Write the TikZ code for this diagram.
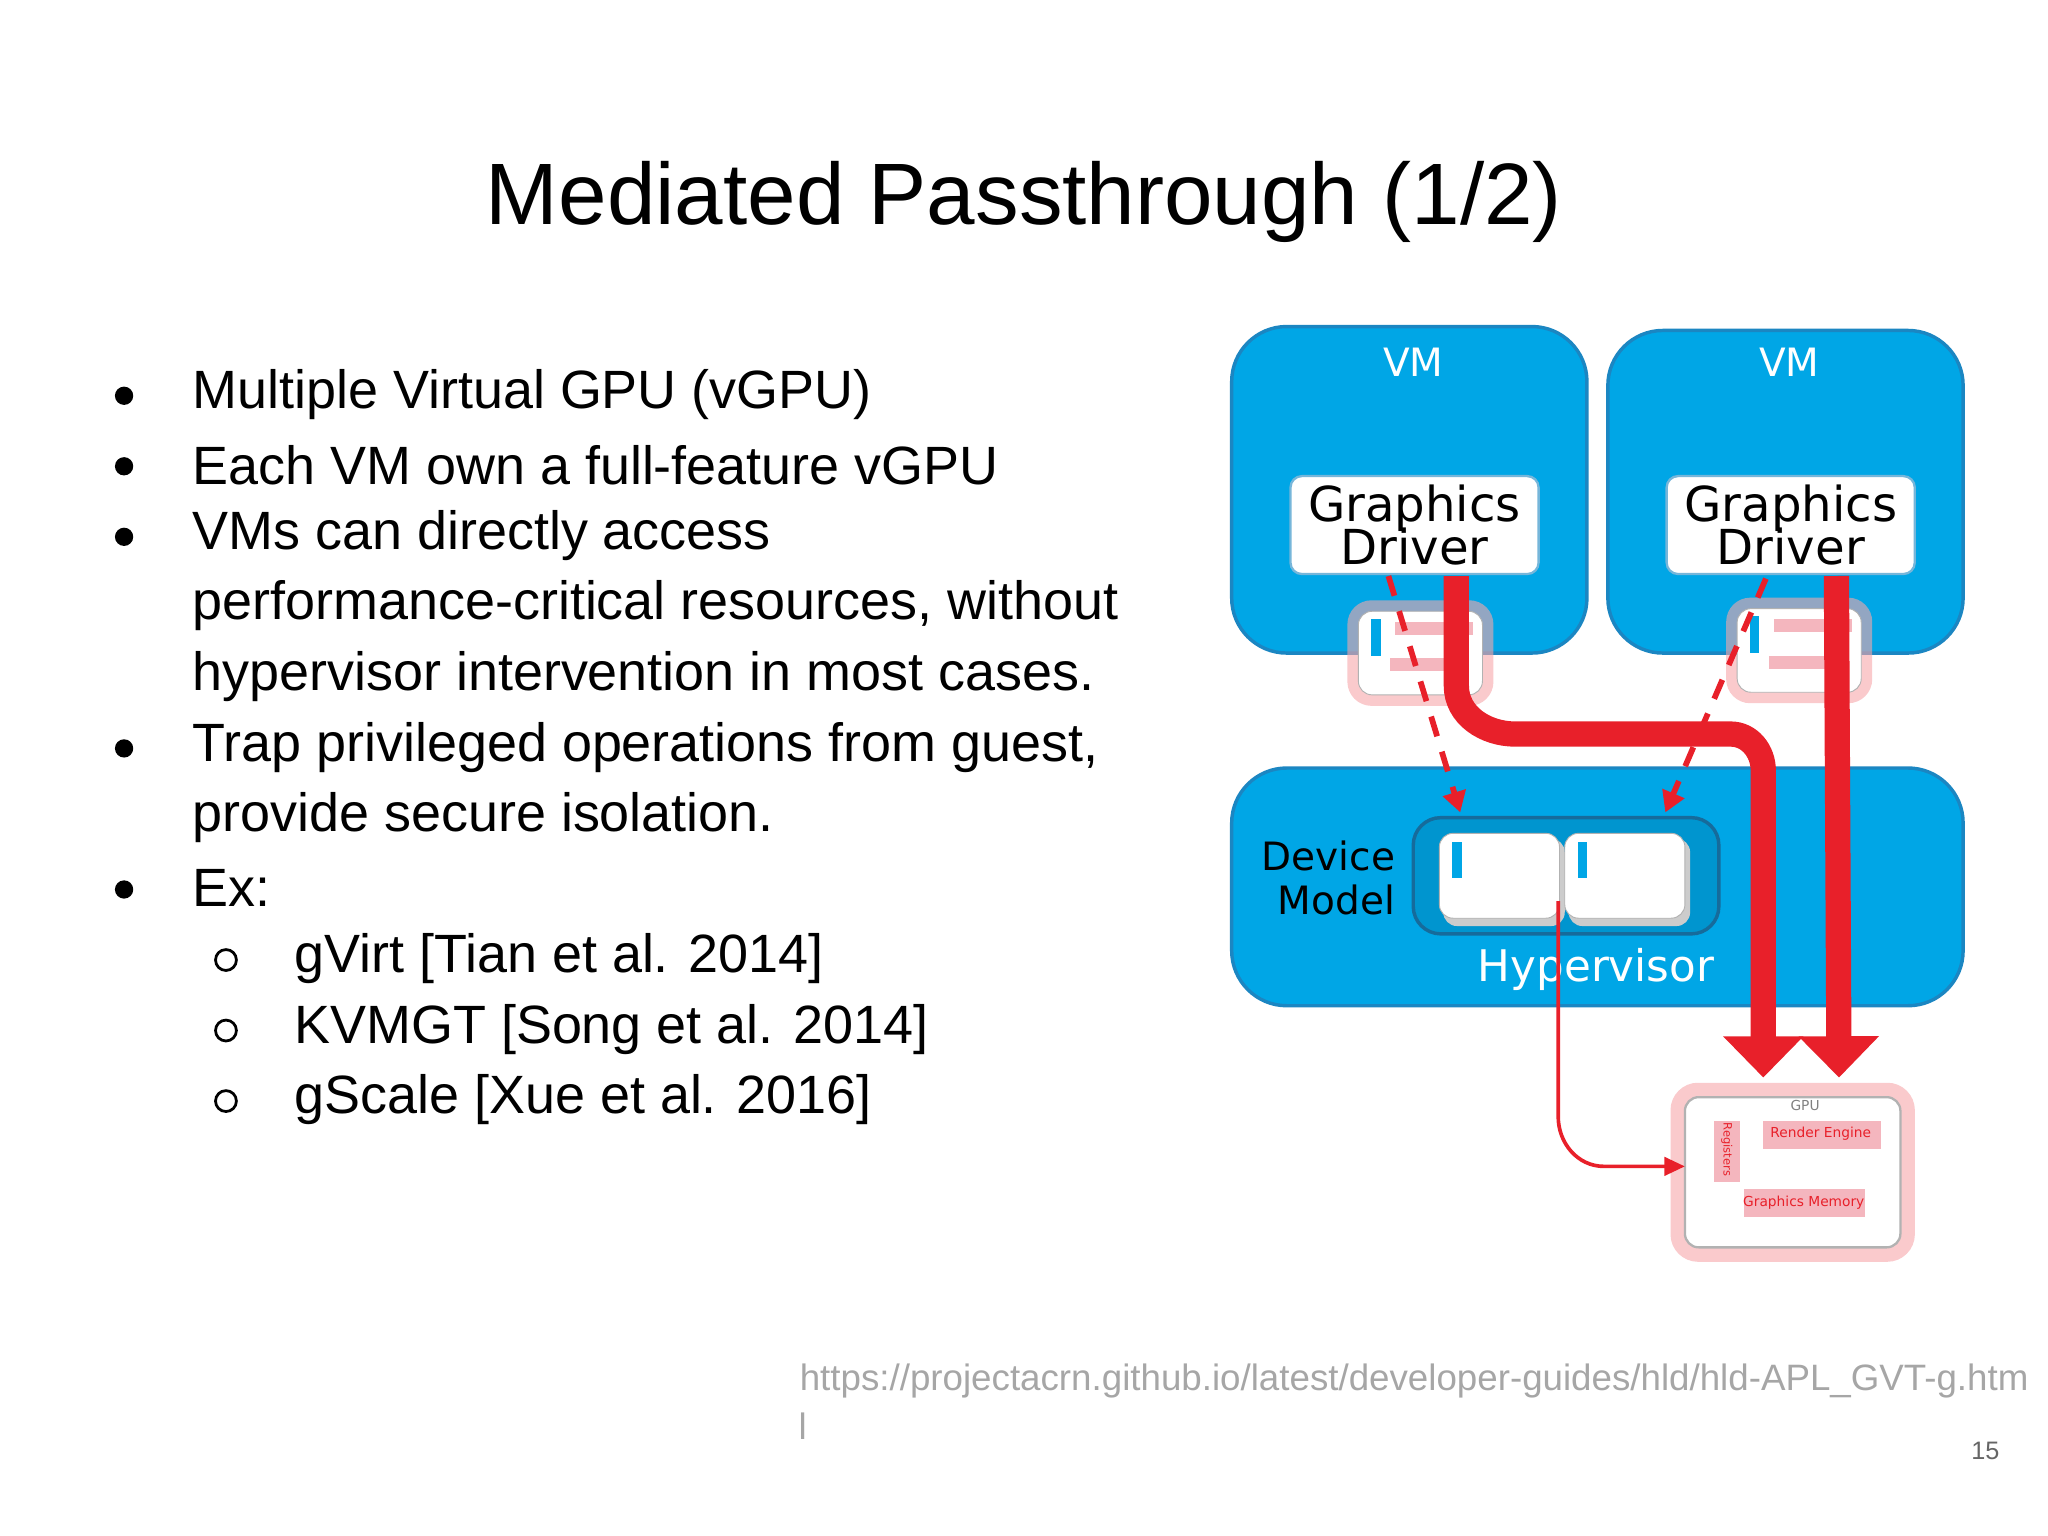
\documentclass[tikz,border=0pt]{standalone}
\usepackage{fontspec}
\setmainfont{Liberation Sans}
\newfontfamily\djvf{DejaVu Sans}
\usetikzlibrary{arrows.meta}
\definecolor{vmblue}{HTML}{00A6E6}
\definecolor{vmedge}{HTML}{1B86C2}
\definecolor{rd}{HTML}{E8202A}
\definecolor{pk}{HTML}{F4B6BE}
\tikzset{
 vm/.style={draw=vmedge,line width=1.5pt,fill=vmblue,rounded corners=24pt},
 drv/.style={draw=vmedge!60,line width=1pt,fill=white,rounded corners=5pt,minimum width=190*0.02cm,minimum height=75*0.02cm,align=center,font=\djvf\fontsize{21}{23}\selectfont,inner sep=0pt},
 gpu/.style={fill=white,draw=gray!60,rounded corners=6pt},
 glow/.style={draw=rd!40,line width=5pt,rounded corners=8pt,opacity=0.6},
 thk/.style={draw=rd,line width=11pt},
 dsh/.style={draw=rd,line width=2.5pt,dash pattern=on 9pt off 7pt,-{Triangle[length=9pt,width=10pt]}},
 bul/.style={anchor=west,font=\fontsize{23.5}{26}\selectfont,inner sep=0pt},
 wl/.style={text=white,font=\djvf\fontsize{17}{20}\selectfont},
}
\begin{document}
\begin{tikzpicture}[x=0.02cm,y=-0.02cm]
\useasboundingbox (0,0) rectangle (1568,1176);
\node (title) at (784,155) {\fontsize{38}{42}\selectfont Mediated Passthrough (1/2)};
% bullets
\foreach \y/\t/\b in {302/Multiple Virtual GPU (vGPU)/1,356/Each VM own a full-feature vGPU/1,410/VMs can directly access/1,464/{performance-critical resources, without}/0,518/hypervisor intervention in most cases./0,572/{Trap privileged operations from guest,}/1,626/provide secure isolation./0,680/Ex:/1}{
 \node[bul] at (147,\y) {\t};
 \ifnum\b=1 \fill (95,\y+1) circle (7);\fi
}
\foreach \y/\t in {734/{gVirt [Tian et al. 2014]},788/{KVMGT [Song et al. 2014]},842/{gScale [Xue et al. 2016]}}{
 \node[bul] at (225,\y) {\t};
 \draw[line width=1.2pt] (173,\y+1) circle (8);
}
\node[anchor=west,inner sep=0pt,text=gray!70,font=\fontsize{16}{18}\selectfont] (url) at (612,1057) {https://projectacrn.github.io/latest/developer-guides/hld/hld-APL\_GVT-g.htm};
\node[anchor=west,inner sep=0pt,text=gray!70,font=\fontsize{16}{18}\selectfont] (url2) at (611,1092) {l};
\node[text=gray!80!black,font=\fontsize{11}{13}\selectfont] (pg) at (1520,1111) {15};
% boxes
\draw[vm] (943,250) rectangle (1215,500);
\draw[vm] (1231,253) rectangle (1503,500);
\draw[vm] (943,588) rectangle (1503,770);
\node[wl] (vm1) at (1082,277) {VM};
\node[wl] (vm2) at (1370,277) {VM};
\node[drv] (d1) at (1083,402) {Graphics\\[-4pt]Driver};
\node[drv] (d2) at (1371,402) {Graphics\\[-4pt]Driver};
\node[align=right,font=\djvf\fontsize{17}{19}\selectfont,inner sep=0pt] (dm) at (1017,672) {Device\\Model};
\node[wl,font=\djvf\fontsize{19}{21}\selectfont] (hv) at (1222,742) {Hypervisor};
\draw[draw=vmedge!80!black,line width=1.5pt,fill=vmblue!90!black,rounded corners=12pt] (1082,626) rectangle (1316,715);
\foreach \x in {1102,1198}{
 \fill[gray!40,rounded corners=6pt] (\x+3,642) rectangle (\x+96,709);
 \draw[gpu] (\x,638) rectangle (\x+92,703);
 \fill[vmblue] (\x+10,645) rectangle (\x+17,672);
}
% small GPUs
\foreach \n/\x/\y in {g1/1040/468,g2/1330/466}{
 \draw[glow] (\x-4,\y-4) rectangle (\x+99,\y+68);
 \draw[gpu] (\x,\y) rectangle (\x+95,\y+64);
 \fill[vmblue] (\x+10,\y+6) rectangle (\x+17,\y+34);
 \fill[pk] (\x+28,\y+8) rectangle (\x+88,\y+18);
 \fill[pk] (\x+24,\y+36) rectangle (\x+84,\y+46);
 \coordinate (\n) at (\x+47,\y+32);
}
% big GPU
\draw[glow,line width=8pt] (1286,836) rectangle (1459,959);
\draw[gpu,line width=1pt] (1290,840) rectangle (1455,955);
\node[font=\djvf\fontsize{6}{7}\selectfont,text=gray] (gt) at (1382,846) {GPU};
\fill[pk] (1312,858) rectangle (1332,905);
\node[rotate=-90,font=\djvf\fontsize{5}{6}\selectfont,text=rd] (rg) at (1322,880) {Registers};
\fill[pk] (1350,858) rectangle (1440,880);
\node[font=\djvf\fontsize{6}{7}\selectfont,text=rd] (re) at (1394,868) {Render Engine};
\fill[pk] (1335,910) rectangle (1428,932);
\node[font=\djvf\fontsize{6}{7}\selectfont,text=rd] (gm) at (1381,921) {Graphics Memory};
\coordinate (gin) at (1290,893);
\coordinate (gt1) at (1350,825); \coordinate (gt2) at (1408,825);
\coordinate (v1) at (1118,622); \coordinate (v2) at (1275,622);
% arrows
\draw[thk,-{Triangle[length=18pt,width=34pt]}] (1115,441) -- (1115,525) to[out=-90,in=180] (1160,562) -- (1325,562) to[out=0,in=90] (1350,590) -- (gt1);
\draw[thk,-{Triangle[length=18pt,width=34pt]}] (1406,441) -- (gt2);
\draw[dsh] (1063,441) -- (v1);
\draw[dsh] (1352,443) -- (v2);
\draw[rd,line width=1.6pt,-{Triangle[length=9pt,width=8pt]}] (1193,690) -- (1193,855) to[out=-90,in=180] (1228,893) -- (gin);
\end{tikzpicture}
\end{document}
